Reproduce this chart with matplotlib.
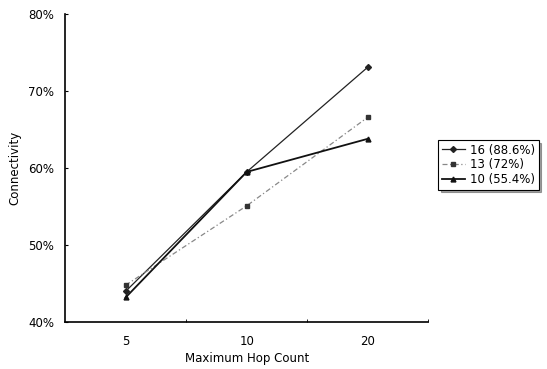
import matplotlib.pyplot as plt
from matplotlib.ticker import FuncFormatter

hops = ['5', '10', '20']
s16 = [44.0, 59.5, 73.1]
s13 = [44.8, 55.1, 66.6]
s10 = [43.2, 59.5, 63.8]
labels = ['16 (88.6%)', '13 (72%)', '10 (55.4%)']

fig = plt.figure(figsize=(5.47, 3.69), dpi=100)
ax = fig.add_axes([0.119, 0.127, 0.664, 0.835])

x = [i + 0.5 for i in range(len(hops))]
ax.plot(x, s16, '-', color='#222222', lw=0.9, marker='D', ms=3, label=labels[0])
ax.plot(x, s13, linestyle=(0, (4, 2, 1, 2)), color='#888888', lw=0.9,
        marker='s', ms=3, mfc='#333333', mec='#333333', label=labels[1])
ax.plot(x, s10, '-', color='#111111', lw=1.3, marker='^', ms=3.5, label=labels[2])

ax.set_xlim(0, 3)
ax.set_ylim(40, 80)
ax.set_xticks(x)
ax.set_xticklabels(hops)
ax.set_xticks([1, 2, 3], minor=True)
ax.tick_params(axis='x', which='major', length=0, labelsize=8.5, pad=9)
ax.tick_params(axis='x', which='minor', length=2.5, direction='in')
ax.set_yticks([40, 50, 60, 70, 80])
ax.yaxis.set_major_formatter(FuncFormatter(lambda v, p: '%d%%' % v))
ax.tick_params(axis='y', length=2.5, direction='in', labelsize=8.5, pad=8)
ax.spines['top'].set_visible(False)
ax.spines['right'].set_visible(False)
ax.spines['left'].set_linewidth(1.2)
ax.spines['bottom'].set_linewidth(1.2)

ax.set_xlabel('Maximum Hop Count', fontsize=8.5, labelpad=3)
ax.set_ylabel('Connectivity', fontsize=8.5, labelpad=5)

leg = ax.legend(loc='upper left', bbox_to_anchor=(1.027, 0.591), borderaxespad=0,
                fontsize=8.5, frameon=True, fancybox=False, shadow=True,
                handlelength=2.0, borderpad=0.3, labelspacing=0.15, handletextpad=0.4)
leg.get_frame().set_edgecolor('black')
leg.get_frame().set_linewidth(0.8)

fig.savefig('out.png', dpi=100)
